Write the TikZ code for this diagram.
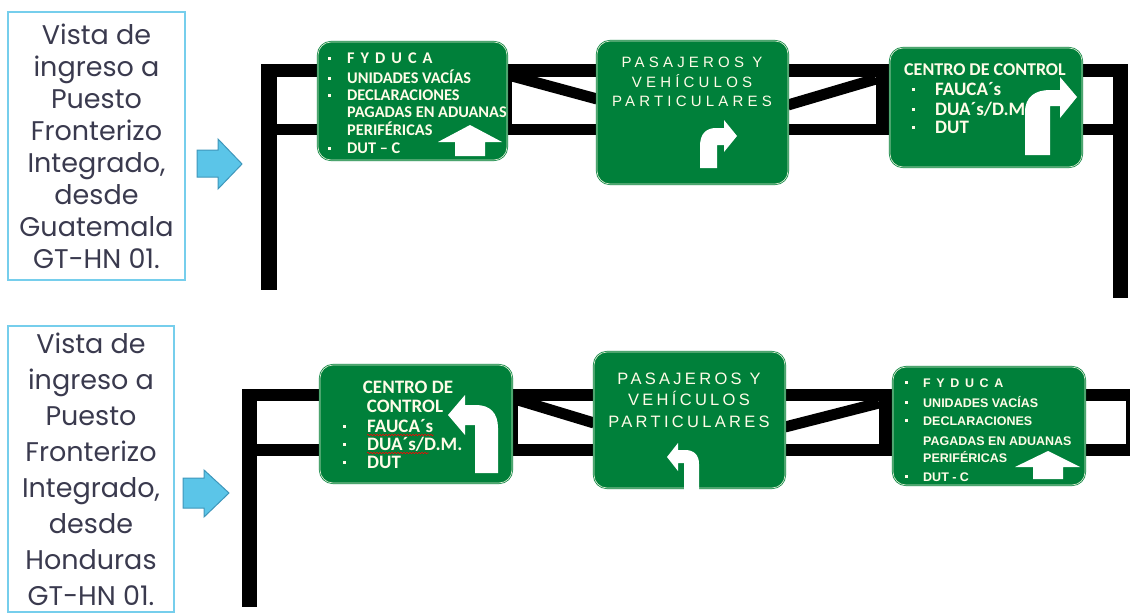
\documentclass[tikz,border=0pt]{standalone}
\usepackage{fontspec}
\usetikzlibrary{positioning,decorations.pathmorphing}

\newfontfamily\boxfont{Poppins}
\newfontfamily\signfont{Carlito}
\newfontfamily\spacedfont{Liberation Sans}

\definecolor{signgreen}{RGB}{0,128,58}
\definecolor{signtext}{RGB}{255,252,232}
\definecolor{boxline}{RGB}{118,206,236}
\definecolor{boxtext}{RGB}{58,58,78}
\definecolor{arrowfill}{RGB}{91,197,232}
\definecolor{arrowline}{RGB}{62,150,186}

\newcommand\blt[2][3.5pt]{\llap{\rule[#1]{2.8pt}{2.8pt}\hspace{#2}}}
\newcommand\fyduca[1]{F\hspace{#1}Y\hspace{#1}D\hspace{#1}U\hspace{#1}C\hspace{#1}A}

\tikzset{
  viewbox/.style={draw=boxline, line width=1.5pt, inner sep=0pt, align=center,
    text=boxtext, font=\boxfont\fontsize{27}{32}\selectfont},
  sign/.style={rounded corners=13pt, fill=signgreen, draw=signgreen,
    double=signtext!85!signgreen, double distance=0.7pt, line width=0.7pt, inner sep=0pt},
  signtxt/.style={every node/.append style={inner sep=0pt, text=signtext}},
  bluearrow/.style={fill=arrowfill, draw=arrowline, line width=1pt},
  truss/.style={line width=11pt}
}

\begin{document}
\begin{tikzpicture}[x=1pt,y=-1pt]
\useasboundingbox (0,0) rectangle (1130,613);

% captions
\node[viewbox, minimum width=177, minimum height=268] (vistaA) at (96.5,146)
  {Vista de\\ingreso a\\Puesto\\Fronterizo\\Integrado,\\desde\\Guatemala\\GT-HN 01.};
\node[viewbox, minimum width=166, minimum height=286, font=\boxfont\fontsize{27}{36}\selectfont] (vistaB) at (91,469)
  {Vista de\\ingreso a\\Puesto\\Fronterizo\\Integrado,\\desde\\Honduras\\GT-HN 01.};

\draw[bluearrow] (197,150) -- (218,150) -- (218,139) -- (242,164) -- (218,189) -- (218,177) -- (197,177) -- cycle;
\draw[bluearrow] (183,478) -- (204,478) -- (204,470) -- (229,493) -- (204,517) -- (204,508) -- (183,508) -- cycle;

% gantry from Guatemala
\fill (261,64) rectangle (1128,77);
\fill (261,124) rectangle (1113,135);
\fill (261,64) rectangle (277,290);
\fill (1113,64) rectangle (1128,298);
\fill (506,77) rectangle (512,124);
\fill (876,77) rectangle (890,124);
\begin{scope}
  \clip (512,77) rectangle (597,124);
  \draw[truss] (512,76) -- (597,99);
\end{scope}
\begin{scope}
  \clip (788,77) rectangle (876,124);
  \draw[truss] (788,105) -- (876,79);
\end{scope}

% gantry from Honduras
\fill (242,389) rectangle (1130,401);
\fill (242,444) rectangle (1130,456);
\fill (242,389) rectangle (257,607);
\fill (1126,389) rectangle (1130,456);
\fill (512,401) rectangle (518,444);
\fill (879,401) rectangle (893,444);
\begin{scope}
  \clip (518,401) rectangle (594,444);
  \draw[truss] (518,400) -- (594,423);
\end{scope}
\begin{scope}
  \clip (785,401) rectangle (879,444);
  \draw[truss] (785,427) -- (879,403);
\end{scope}

% signs
\node[sign, minimum width=189, minimum height=118] (fydA) at (412.5,101) {};
\node[sign, minimum width=191, minimum height=143] (pasA) at (692.5,112.5) {};
\node[sign, minimum width=192, minimum height=119] (cenA) at (986,107.5) {};
\node[sign, minimum width=192, minimum height=118] (cenB) at (416,424) {};
\node[sign, minimum width=191, minimum height=136] (pasB) at (689.5,420) {};
\node[sign, minimum width=192, minimum height=118] (fydB) at (989,426) {};

% sign texts
\begin{scope}[signtxt, every node/.append style={font=\signfont\bfseries\fontsize{16.3}{18}\selectfont}]
  \foreach \yy/\tx [count=\i] in {63/{\blt{16.5pt}\fyduca{6pt}},
      83/{\blt{16.5pt}UNIDADES VACÍAS}, 100/{\blt{16.5pt}DECLARACIONES},
      117/{PAGADAS EN ADUANAS}, 135/{PERIFÉRICAS}, 153/{\blt{16.5pt}DUT – C}}
    \node[anchor=base west] (fydA\i) at (347,\yy) {\tx};
\end{scope}

\begin{scope}[signtxt, every node/.append style={font=\spacedfont\fontsize{15}{18}\selectfont\addfontfeature{LetterSpace=28}}]
  \foreach \yy/\tx [count=\i] in {67/{PASAJEROS Y}, 87/{VEHÍCULOS}, 106/{PARTICULARES}}
    \node[anchor=base] (pasA\i) at (692,\yy) {\tx};
\end{scope}

\begin{scope}[signtxt, every node/.append style={font=\signfont\bfseries\fontsize{19}{20}\selectfont}]
  \node[anchor=base west, font=\signfont\bfseries\fontsize{18}{20}\selectfont] (cenA1) at (904,75) {CENTRO DE CONTROL};
  \foreach \yy/\tx [count=\i from 2] in {95/{FAUCA´s}, 115/{DUA´s/D.M.}, 133/{DUT}}
    \node[anchor=base west] (cenA\i) at (935,\yy) {\blt[4.5pt]{20.6pt}\tx};
  \node[anchor=base] (cenB1) at (408,393) {CENTRO DE};
  \node[anchor=base] (cenB2) at (405,412) {CONTROL};
  \foreach \yy/\tx [count=\i from 3] in {432/{FAUCA´s}, 450/{DUA´s/D.M.}, 468/{DUT}}
    \node[anchor=base west] (cenB\i) at (367,\yy) {\blt[4.5pt]{21.6pt}\tx};
\end{scope}

\draw[red, line width=0.6pt, decorate, decoration={snake, amplitude=0.7pt, segment length=3pt}]
  ([yshift=-3pt]cenB3.base west) -- ([yshift=-3pt]cenB3.base east);
\draw[red, line width=0.6pt, decorate, decoration={snake, amplitude=0.7pt, segment length=3pt}]
  ([yshift=-3pt]cenB4.base west) -- ([yshift=-3pt,xshift=-34pt]cenB4.base east);

\begin{scope}[signtxt, every node/.append style={font=\spacedfont\fontsize{16.5}{20}\selectfont\addfontfeature{LetterSpace=20}}]
  \foreach \yy/\tx [count=\i] in {384/{PASAJEROS Y}, 405/{VEHÍCULOS}, 427/{PARTICULARES}}
    \node[anchor=base] (pasB\i) at (689,\yy) {\tx};
\end{scope}

\begin{scope}[signtxt, every node/.append style={font=\spacedfont\bfseries\fontsize{12.5}{16}\selectfont}]
  \foreach \yy/\tx [count=\i] in {387/{\blt{15.6pt}\fyduca{5.6pt}},
      407/{\blt{15.6pt}UNIDADES VACÍAS}, 425/{\blt{15.6pt}DECLARACIONES},
      445/{PAGADAS EN ADUANAS}, 462/{PERIFÉRICAS}, 481/{\blt{15.6pt}DUT - C}}
    \node[anchor=base west] (fydB\i) at (923,\yy) {\tx};
\end{scope}

% white arrows on the signs
\fill[white] (455,156) -- (455,142) -- (438,142) -- (470,125) -- (502,142) -- (485,142) -- (485,156) -- cycle;
\fill[white] (700,168) -- (700,146) .. controls (700,134) and (706,128) .. (716,128) -- (724,128) -- (724,120)
  -- (737,136) -- (724,152) -- (724,145) -- (717,145) -- (717,168) -- cycle;
\fill[white] (1025,155) -- (1025,112) .. controls (1025,97) and (1035,90) .. (1050,90) -- (1060,90) -- (1060,77)
  -- (1077,97) -- (1060,118) -- (1060,106) -- (1050,106) -- (1050,155) -- cycle;
\fill[white] (498,473) -- (498,428) .. controls (498,413) and (490,405) .. (476,405) -- (465,405) -- (465,395)
  -- (448,415) -- (465,435) -- (465,425) -- (475,425) -- (475,473) -- cycle;
\fill[white] (699,490) -- (699,464) .. controls (699,455) and (694,450) .. (685,450) -- (678,450) -- (678,443)
  -- (667,457) -- (678,471) -- (678,463) -- (684,463) -- (684,490) -- cycle;
\fill[white] (1033,479) -- (1033,467) -- (1015,467) -- (1048,451) -- (1080,467) -- (1063,467) -- (1063,479) -- cycle;
\end{tikzpicture}
\end{document}
